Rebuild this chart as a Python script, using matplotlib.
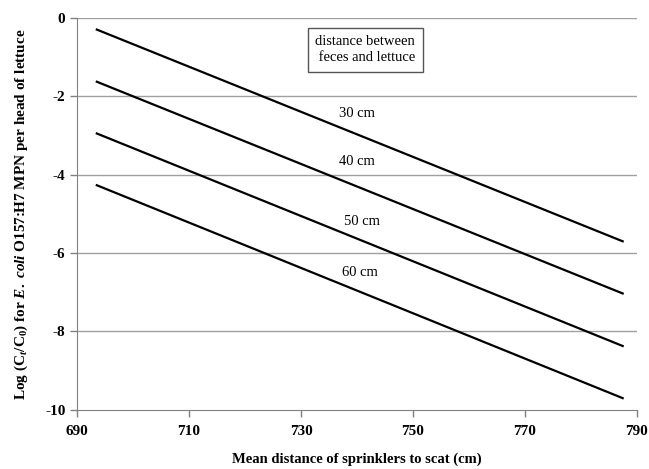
import matplotlib.pyplot as plt

plt.rcParams['font.family'] = 'Liberation Serif'
plt.rcParams['axes.unicode_minus'] = False
plt.rcParams['mathtext.fontset'] = 'custom'
plt.rcParams['mathtext.rm'] = 'Liberation Serif:bold'
plt.rcParams['mathtext.it'] = 'Liberation Serif:bold:italic'
plt.rcParams['mathtext.bf'] = 'Liberation Serif:bold'

# distance between feces and lettuce -> line end points
labels = ['30 cm', '40 cm', '50 cm', '60 cm']
x_vals = [693.5, 787.5]
y_start = [-0.30, -1.63, -2.95, -4.27]
y_end = [-5.70, -7.03, -8.37, -9.70]
label_x = [740.0, 740.0, 740.9, 740.5]
label_y = [-2.45, -3.67, -5.20, -6.50]

fig = plt.figure(figsize=(6.49, 4.69), dpi=100)
ax = fig.add_axes([0.119, 0.126, 0.862, 0.836])

for y in [-2, -4, -6, -8, 0]:
    ax.axhline(y, color='#a0a0a0', lw=1, zorder=0)

for y0, y1 in zip(y_start, y_end):
    ax.plot(x_vals, [y0, y1], color='black', lw=1.6)

for lab, lx, ly in zip(labels, label_x, label_y):
    ax.text(lx, ly, lab, ha='center', va='center', fontsize=10.5)

ax.text(741.5, -0.82, 'distance between\n feces and lettuce', ha='center', va='center',
        fontsize=10.5, linespacing=1.3,
        bbox=dict(boxstyle='square,pad=0.5', fc='white', ec='#555555', lw=1))

ax.set_xlim(690, 790)
ax.set_ylim(-10, 0)
ax.set_xticks(range(690, 791, 20))
ax.set_yticks(range(-10, 1, 2))
for t in ax.get_xticklabels() + ax.get_yticklabels():
    t.set_fontweight('bold')
    t.set_fontsize(11)
ax.tick_params(color='#808080', length=5, width=1)
ax.tick_params(axis='x', pad=6)

for s in ['top', 'right']:
    ax.spines[s].set_visible(False)
for s in ['left', 'bottom']:
    ax.spines[s].set_color('#808080')

ax.set_xlabel('Mean distance of sprinklers to scat (cm)', fontsize=10.5,
              fontweight='bold', labelpad=10)
ax.set_ylabel(r'Log (C$_t$/C$_0$) for $\mathit{E.\ coli}$ O157:H7 MPN per head of lettuce',
              fontsize=11, fontweight='bold', labelpad=11)

fig.savefig('out.png', dpi=100)
